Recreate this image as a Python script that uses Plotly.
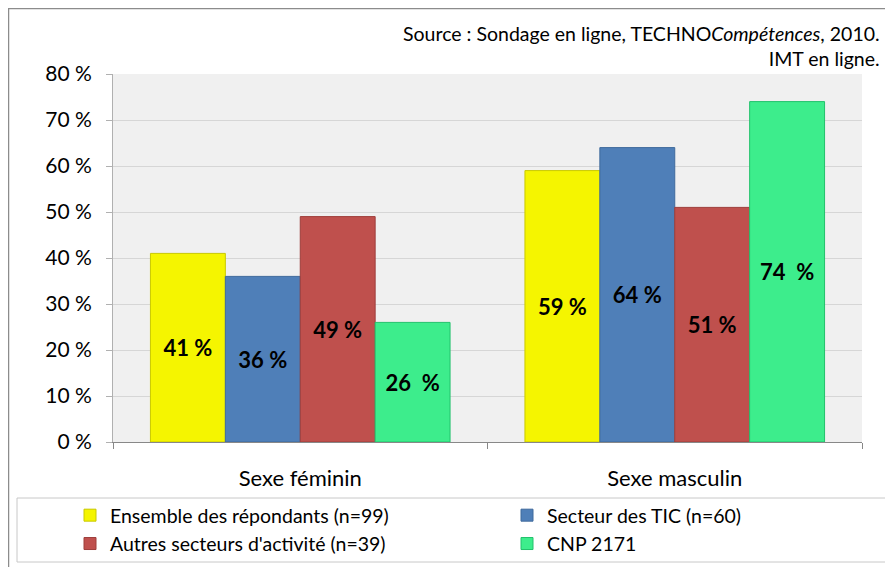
import plotly.graph_objects as go

categories = ["Sexe féminin", "Sexe masculin"]
series_names = [
    "Ensemble des répondants (n=99)",
    "Secteur des TIC (n=60)",
    "Autres secteurs d'activité (n=39)",
    "CNP 2171",
]
ensemble = [41, 59]
tic = [36, 64]
autres = [49, 51]
cnp = [26, 74]
y_ticks = [0, 10, 20, 30, 40, 50, 60, 70, 80]
y_tick_labels = ["0 %", "10 %", "20 %", "30 %", "40 %", "50 %", "60 %", "70 %", "80 %"]

colors = ["#f5f500", "#4f7fb8", "#bf504d", "#3ded8c"]
edges = ["#c9c900", "#3f6a9c", "#9e3e3b", "#22c26c"]
label_sep = [" ", " ", " ", "\u00a0\u00a0"]
legend_ids = ["legend", "legend2", "legend", "legend2"]

# page body has an 8px default margin: work in target-pixel coordinates minus that offset
OFF = 8
W, H = 893, 567
PLOT_L, PLOT_R, PLOT_T, PLOT_B = 113, 862, 74, 442
ML, MR, MT, MB = PLOT_L - OFF, W - (PLOT_R - OFF), PLOT_T - OFF, H - (PLOT_B - OFF)
PW, PH = W - ML - MR, H - MT - MB


def px_x(p):
    return (p - OFF - ML) / PW


def px_y(p):
    return (H - MB - (p - OFF)) / PH


FONT = "Lato"
fig = go.Figure()
for name, vals, col, ed, sep, lg in zip(series_names, [ensemble, tic, autres, cnp],
                                        colors, edges, label_sep, legend_ids):
    fig.add_trace(go.Bar(
        name=name, x=categories, y=vals, legend=lg, legendgroup=name,
        marker=dict(color=col, line=dict(color=ed, width=1)),
        text=[f"{v}{sep}%" for v in vals],
        textposition="inside", insidetextanchor="middle", textangle=0,
        textfont=dict(family=FONT, size=22, color="black", weight="bold"),
        constraintext="none",
    ))

legend_common = dict(
    orientation="v", yanchor="top", xanchor="left",
    font=dict(family=FONT, size=19.5, color="black"),
    bgcolor="rgba(0,0,0,0)", traceorder="normal", tracegroupgap=2,
)

fig.update_layout(
    width=W, height=H,
    margin=dict(l=ML, r=MR, t=MT, b=MB, autoexpand=False),
    paper_bgcolor="white", plot_bgcolor="#f0f0f0",
    barmode="group", bargap=0.2, bargroupgap=0,
    font=dict(family=FONT, color="black"),
    showlegend=True,
    legend=dict(x=px_x(70), y=px_y(496), **legend_common),
    legend2=dict(x=px_x(507), y=px_y(496), **legend_common),
    xaxis=dict(
        showline=True, linecolor="#888888", linewidth=1,
        ticks="outside", tickson="boundaries", ticklen=6, tickcolor="#888888",
        tickfont=dict(size=22, family=FONT), ticklabelstandoff=17,
        showgrid=False,
    ),
    yaxis=dict(
        range=[0, 80], tickmode="array", tickvals=y_ticks, ticktext=y_tick_labels,
        showline=True, linecolor="#b0b0b0", linewidth=1,
        ticks="outside", ticklen=6, tickcolor="#b0b0b0",
        tickfont=dict(size=21, family=FONT), ticklabelstandoff=10,
        showgrid=True, gridcolor="#d6d6d6", gridwidth=1,
        zeroline=False,
    ),
    annotations=[dict(
        text="Source : Sondage en ligne, TECHNO<i>Compétences</i>, 2010.<br>IMT en ligne.",
        xref="paper", yref="paper", x=px_x(882), y=px_y(20),
        xanchor="right", yanchor="top", align="right", showarrow=False,
        font=dict(family=FONT, size=19.5, color="black"),
    )],
    shapes=[
        dict(type="rect", xref="paper", yref="paper",
             x0=px_x(8), x1=px_x(910), y0=px_y(8), y1=px_y(600),
             line=dict(color="#8c8c8c", width=2.5), fillcolor="rgba(0,0,0,0)", layer="above"),
        dict(type="rect", xref="paper", yref="paper",
             x0=px_x(17), x1=px_x(910), y0=px_y(498), y1=px_y(562),
             line=dict(color="#c8c8c8", width=1), fillcolor="rgba(0,0,0,0)", layer="above"),
    ],
)

fig.write_html("out.html")
